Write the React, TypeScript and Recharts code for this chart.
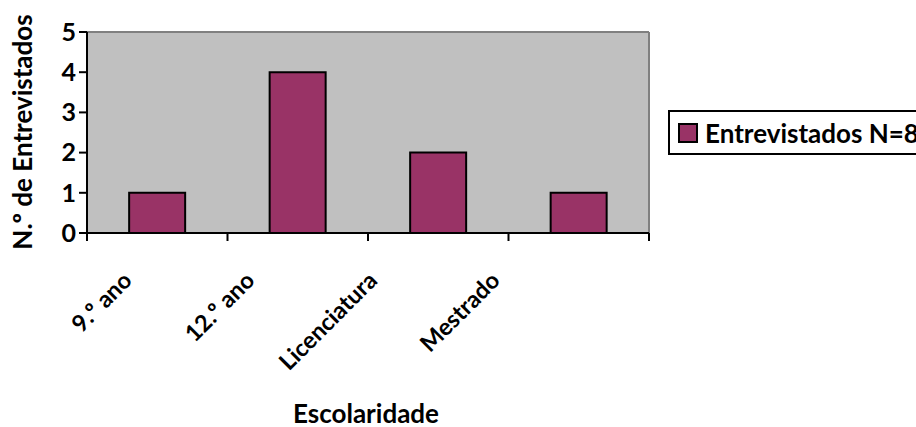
import React from "react";
import { BarChart, Bar, XAxis, YAxis, CartesianGrid } from "recharts";

const categories = ["9.º ano", "12.º ano", "Licenciatura", "Mestrado"];
const interviewees = [1, 4, 2, 1];
const yTicks = [0, 1, 2, 3, 4, 5];
const seriesName = "Entrevistados N=8";
const xTitle = "Escolaridade";
const yTitle = "N.º de Entrevistados";

const data = categories.map((name, i) => ({ name, value: interviewees[i] }));

const FONT = "Lato, 'Open Sans', sans-serif";
const BAR_FILL = "#993366";
const W = 916;
const H = 427;
const PLOT = { left: 87, right: 649, top: 32, bottom: 233 };
const BAND = (PLOT.right - PLOT.left) / categories.length;

function XTick(props: any) {
  const { x, y, payload, index } = props;
  const left = x - BAND / 2;
  // excel squeezes the rotated labels a little towards the left
  const ax = x - 24 - index * 17.8;
  const ay = y + 41;
  return (
    <g>
      <line x1={left} y1={y - 8} x2={left} y2={y} stroke="#000" strokeWidth={2} />
      {index === categories.length - 1 && (
        <line x1={left + BAND} y1={y - 8} x2={left + BAND} y2={y} stroke="#000" strokeWidth={2} />
      )}
      <text
        x={ax}
        y={ay}
        textAnchor="end"
        transform={`rotate(-45 ${ax} ${ay})`}
        fontFamily={FONT}
        fontWeight="bold"
        fontSize={23.5}
        fill="#000"
      >
        {payload.value}
      </text>
    </g>
  );
}

export default function App() {
  return (
    <div style={{ position: "absolute", left: 0, top: 0, width: W, height: H, overflow: "hidden", background: "#fff" }}>
      <BarChart
        width={W}
        height={H}
        data={data}
        margin={{ top: PLOT.top, right: W - PLOT.right, left: PLOT.left - 60, bottom: H - PLOT.bottom - 30 }}
        barCategoryGap="30%"
      >
        <CartesianGrid
          fill="#C0C0C0"
          stroke="#808080"
          strokeWidth={2}
          horizontalCoordinatesGenerator={() => [PLOT.top]}
          verticalCoordinatesGenerator={() => [PLOT.right]}
        />
        <XAxis
          dataKey="name"
          height={30}
          axisLine={{ stroke: "#000", strokeWidth: 2 }}
          tickLine={false}
          tick={<XTick />}
          interval={0}
        />
        <YAxis
          width={60}
          domain={[0, 5]}
          ticks={yTicks}
          interval={0}
          axisLine={{ stroke: "#000", strokeWidth: 2 }}
          tickLine={{ stroke: "#000", strokeWidth: 2 }}
          tickSize={8}
          tickMargin={3}
          tick={{ fontFamily: FONT, fontWeight: "bold", fontSize: 25, fill: "#000" }}
        />
        <Bar dataKey="value" fill={BAR_FILL} stroke="#000" strokeWidth={2} isAnimationActive={false} />
      </BarChart>

      <svg width={W} height={H} style={{ position: "absolute", left: 0, top: 0, pointerEvents: "none" }}>
        <text
          x={32}
          y={132}
          textAnchor="middle"
          transform="rotate(-90 32 132)"
          fontFamily={FONT}
          fontWeight="bold"
          fontSize={26}
          fill="#000"
        >
          {yTitle}
        </text>
        <text x={366} y={423} textAnchor="middle" fontFamily={FONT} fontWeight="bold" fontSize={26} fill="#000">
          {xTitle}
        </text>
      </svg>

      <div
        style={{
          position: "absolute",
          left: 668,
          top: 110,
          width: 270,
          height: 45,
          boxSizing: "border-box",
          border: "2px solid #000",
          display: "flex",
          alignItems: "center",
          fontFamily: FONT,
          fontWeight: "bold",
          fontSize: 26,
          whiteSpace: "nowrap",
          background: "#fff",
        }}
      >
        <span
          style={{
            display: "inline-block",
            width: 16,
            height: 16,
            background: BAR_FILL,
            border: "2px solid #000",
            marginLeft: 8,
            marginRight: 7,
          }}
        />
        {seriesName}
      </div>
    </div>
  );
}
